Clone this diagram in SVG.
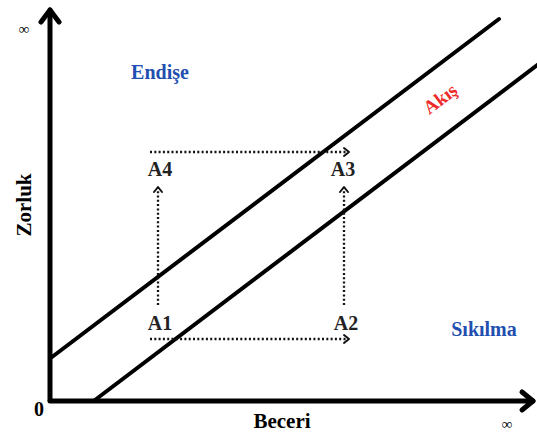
<svg xmlns="http://www.w3.org/2000/svg" width="537" height="434" viewBox="0 0 537 434">
<style>
.ax{stroke:#000;stroke-width:5;fill:none;stroke-linecap:round;stroke-linejoin:round}
.ln{stroke:#000;stroke-width:4;fill:none;stroke-linecap:round}
.dt{stroke:#111;stroke-width:2.3;fill:none;stroke-dasharray:2 2.3}
.ah{stroke:#111;stroke-width:2;fill:none;stroke-linecap:round;stroke-linejoin:round}
text{font-family:"Liberation Serif","Times New Roman",serif;font-weight:bold}
.lb{font-size:20px;fill:#222}
.bl{font-size:20px;fill:#1f4fb0}
</style>
<rect width="537" height="434" fill="#fff"/>
<g id="axes">
<polyline class="ax" points="50,400 50,10"/>
<polyline class="ax" points="41,22 50,10 59,22"/>
<polyline class="ax" points="50,401 533,401"/>
<polyline class="ax" points="522,392 533,401 522,410"/>
</g>
<g id="channel">
<line class="ln" x1="52" y1="357" x2="499" y2="19"/>
<line class="ln" x1="95" y1="400" x2="540" y2="63"/>
</g>
<g id="connectors">
<line class="dt" x1="150" y1="152" x2="348" y2="152"/>
<polyline class="ah" points="344,148 349,152 344,156"/>
<line class="dt" x1="150" y1="339" x2="348" y2="339"/>
<polyline class="ah" points="344,335 349,339 344,343"/>
<line class="dt" x1="158" y1="305" x2="158" y2="190"/>
<polyline class="ah" points="154,192 158,187 162,192"/>
<line class="dt" x1="344" y1="305" x2="344" y2="190"/>
<polyline class="ah" points="340,192 344,187 348,192"/>
</g>
<g id="A1"><text class="lb" x="160" y="330" text-anchor="middle">A1</text></g>
<g id="A2"><text class="lb" x="346" y="330" text-anchor="middle">A2</text></g>
<g id="A3"><text class="lb" x="343" y="176" text-anchor="middle">A3</text></g>
<g id="A4"><text class="lb" x="160" y="176" text-anchor="middle">A4</text></g>
<g id="labels">
<text x="24" y="34" font-size="15" text-anchor="middle" style="font-weight:normal">∞</text>
<text x="39" y="416" font-size="20" text-anchor="middle">0</text>
<text x="282" y="428" font-size="21" text-anchor="middle">Beceri</text>
<text x="507" y="429" font-size="15" text-anchor="middle" style="font-weight:normal">∞</text>
<text transform="translate(31,205) rotate(-90)" font-size="21" text-anchor="middle">Zorluk</text>
<text class="bl" x="160" y="79" text-anchor="middle">Endişe</text>
<text class="bl" x="484" y="336" text-anchor="middle">Sıkılma</text>
<text transform="translate(444,104) rotate(-37)" font-size="19" fill="#ee2b2b" text-anchor="middle">Akış</text>
</g>
</svg>
